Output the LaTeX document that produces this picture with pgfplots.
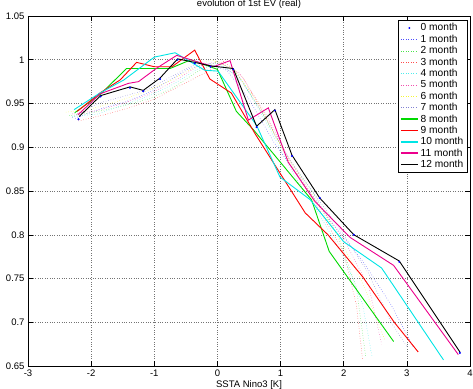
\documentclass[border=0pt]{standalone}
\usepackage{fontspec}
\setmainfont{Liberation Sans}
\usepackage{pgfplots}
\pgfplotsset{compat=1.18}
\definecolor{mgreen}{rgb}{0,0.85,0}
\definecolor{mcyan}{rgb}{0,0.9,0.9}
\definecolor{myellow}{rgb}{0.95,0.95,0}
\definecolor{mdblue}{rgb}{0.3,0.3,0.75}
\tikzset{leg/.style={}}
\begin{document}
\begin{tikzpicture}
\begin{axis}[
  scale only axis, width=442pt, height=350pt,
  xmin=-3, xmax=4, ymin=0.65, ymax=1.05,
  xtick={-3,-2,-1,0,1,2,3,4},
  ytick={0.65,0.7,0.75,0.8,0.85,0.9,0.95,1,1.05},
  /pgf/number format/assume math mode=true,
  font=\fontsize{9.5}{11}\selectfont,
  tick label style={font=\fontsize{9.5}{11}\selectfont},
  tick align=inside, major tick length=5pt,
  xtick pos=both, ytick pos=both,
  axis line style={line width=0.9pt},
  tick style={line width=0.5pt, black},
  grid=major, grid style={dotted, black!55, line width=0.5pt},
  title={evolution of 1st EV (real)},
  title style={at={(0.5,1)}, anchor=base, yshift=3.5pt, inner sep=0pt, font=\fontsize{9.5}{11}\selectfont},
  xlabel={SSTA Nino3 [K]},
  ylabel={eigen vector},
  xlabel style={inner sep=1pt},
  legend style={at={(0.993,0.989)}, anchor=north east,
    font=\fontsize{10.2}{10.5}\selectfont, inner sep=1.5pt, row sep=-1.5pt,
    cells={anchor=west}},
  legend image code/.code={\draw[mark repeat=2,mark phase=2,#1,leg] plot coordinates {(0cm,0cm) (0.3cm,0cm) (0.6cm,0cm)};},
]
% 0 month
\addplot[only marks, mark=*, mark size=0.8pt, blue] coordinates {
(-2.20,0.932) (-1.85,0.958) (-1.385,0.968) (-1.175,0.964) (-0.91,0.978) (-0.63,1.000)
(-0.36,0.996) (-0.11,0.992) (0.25,0.989) (0.62,0.923) (0.91,0.942) (1.18,0.890)
(1.62,0.842) (2.16,0.800) (2.88,0.769) (3.84,0.665)};
% 1 month
\addplot[blue!70, dotted, line width=0.5pt] coordinates {
(-2.25,0.933) (-1.85,0.944) (-1.45,0.952) (-1.1,0.962) (-0.75,0.977) (-0.45,0.990)
(-0.15,0.995) (0.15,0.988) (0.5,0.955) (0.9,0.905) (1.3,0.865) (1.8,0.815) (2.3,0.77)
(2.75,0.72) (3.1,0.672)};
% 2 month
\addplot[mgreen!70, dotted, line width=0.5pt] coordinates {
(-2.35,0.936) (-1.95,0.940) (-1.5,0.947) (-1.1,0.955) (-0.7,0.968) (-0.35,0.985)
(0.0,0.998) (0.3,0.985) (0.7,0.94) (1.1,0.89) (1.5,0.85) (1.9,0.80) (2.2,0.74) (2.35,0.66)};
% 3 month
\addplot[red!70, dotted, line width=0.5pt] coordinates {
(-2.2,0.930) (-1.8,0.937) (-1.4,0.945) (-1.0,0.955) (-0.6,0.97) (-0.2,0.985) (0.1,0.998)
(0.4,0.98) (0.8,0.93) (1.2,0.875) (1.6,0.83) (2.0,0.78) (2.2,0.72) (2.3,0.657)};
% 4 month
\addplot[mcyan!70, dotted, line width=0.5pt] coordinates {
(-2.3,0.935) (-1.9,0.938) (-1.5,0.948) (-1.1,0.958) (-0.7,0.972) (-0.3,0.99) (0.05,0.995)
(0.4,0.975) (0.8,0.925) (1.2,0.87) (1.6,0.825) (2.0,0.775) (2.3,0.72) (2.45,0.66)};
% 5 month
\addplot[magenta!70, dotted, line width=0.5pt] coordinates {
(-2.3,0.938) (-1.9,0.942) (-1.5,0.95) (-1.1,0.96) (-0.7,0.975) (-0.3,0.993) (0.0,0.998)
(0.35,0.985) (0.75,0.94) (1.15,0.885) (1.55,0.84) (2.0,0.795) (2.4,0.74) (2.6,0.675)};
% 6 month
\addplot[myellow!80, dotted, line width=0.5pt] coordinates {
(-2.4,0.94) (-2.0,0.944) (-1.6,0.952) (-1.2,0.962) (-0.8,0.974) (-0.4,0.99) (-0.1,1.0)
(0.25,0.99) (0.65,0.95) (1.05,0.895) (1.45,0.85) (1.9,0.80) (2.3,0.745) (2.65,0.68)};
% 7 month
\addplot[mdblue!70, dotted, line width=0.5pt] coordinates {
(-2.3,0.934) (-1.9,0.95) (-1.5,0.958) (-1.1,0.966) (-0.7,0.982) (-0.35,0.995) (0.0,0.996)
(0.35,0.98) (0.75,0.935) (1.15,0.885) (1.55,0.845) (2.0,0.80) (2.4,0.755) (2.75,0.70) (3.0,0.672)};
% 8 month
\addplot[mgreen, line width=0.9pt, leg/.style={line width=1.6pt}] coordinates {
(-2.26,0.9395) (-1.86,0.960) (-1.44,0.990) (-0.96,0.990) (-0.75,0.990) (-0.42,1.000)
(0.0,0.989) (0.3,0.941) (0.57,0.920) (1.49,0.840) (1.77,0.781) (2.79,0.678)};
% 9 month
\addplot[red, line width=0.9pt, leg/.style={line width=1.6pt}] coordinates {
(-2.22,0.941) (-1.86,0.962) (-1.54,0.977) (-1.28,0.997) (-1.0,0.992) (-0.72,0.992)
(-0.36,1.011) (-0.12,0.978) (0.22,0.962) (0.60,0.915) (1.39,0.825) (1.75,0.800)
(2.3,0.752) (2.8,0.700) (3.18,0.666)};
% 10 month
\addplot[mcyan, line width=0.9pt, leg/.style={line width=1.6pt}] coordinates {
(-2.27,0.943) (-1.86,0.962) (-1.48,0.977) (-1.0,1.003) (-0.67,1.008) (-0.2,0.988)
(0.01,0.987) (0.62,0.925) (0.99,0.866) (1.47,0.840) (2.0,0.792) (2.6,0.762) (3.58,0.657)};
% 11 month
\addplot[magenta, line width=0.9pt, leg/.style={line width=1.6pt}] coordinates {
(-2.21,0.937) (-1.86,0.961) (-1.41,0.973) (-1.25,0.975) (-0.97,0.990) (-0.645,1.005)
(-0.065,0.992) (0.20,0.999) (0.49,0.931) (0.806,0.945) (1.12,0.883) (1.545,0.838)
(2.10,0.797) (2.79,0.765) (3.815,0.663)};
% 12 month
\addplot[black, line width=0.9pt, leg/.style={line width=1.2pt}] coordinates {
(-2.19,0.935) (-1.85,0.959) (-1.385,0.969) (-1.175,0.965) (-0.91,0.979) (-0.63,1.001)
(-0.36,0.997) (-0.11,0.993) (0.25,0.990) (0.62,0.924) (0.91,0.943) (1.18,0.891)
(1.62,0.842) (2.16,0.800) (2.88,0.770) (3.84,0.666)};
\legend{0 month,1 month,2 month,3 month,4 month,5 month,6 month,7 month,8 month,9 month,10 month,11 month,12 month}
\end{axis}
\pgfresetboundingbox
\path[use as bounding box] ([xshift=-28pt,yshift=-22pt]current axis.south west) rectangle ([xshift=3pt,yshift=16pt]current axis.north east);
\end{tikzpicture}
\end{document}
